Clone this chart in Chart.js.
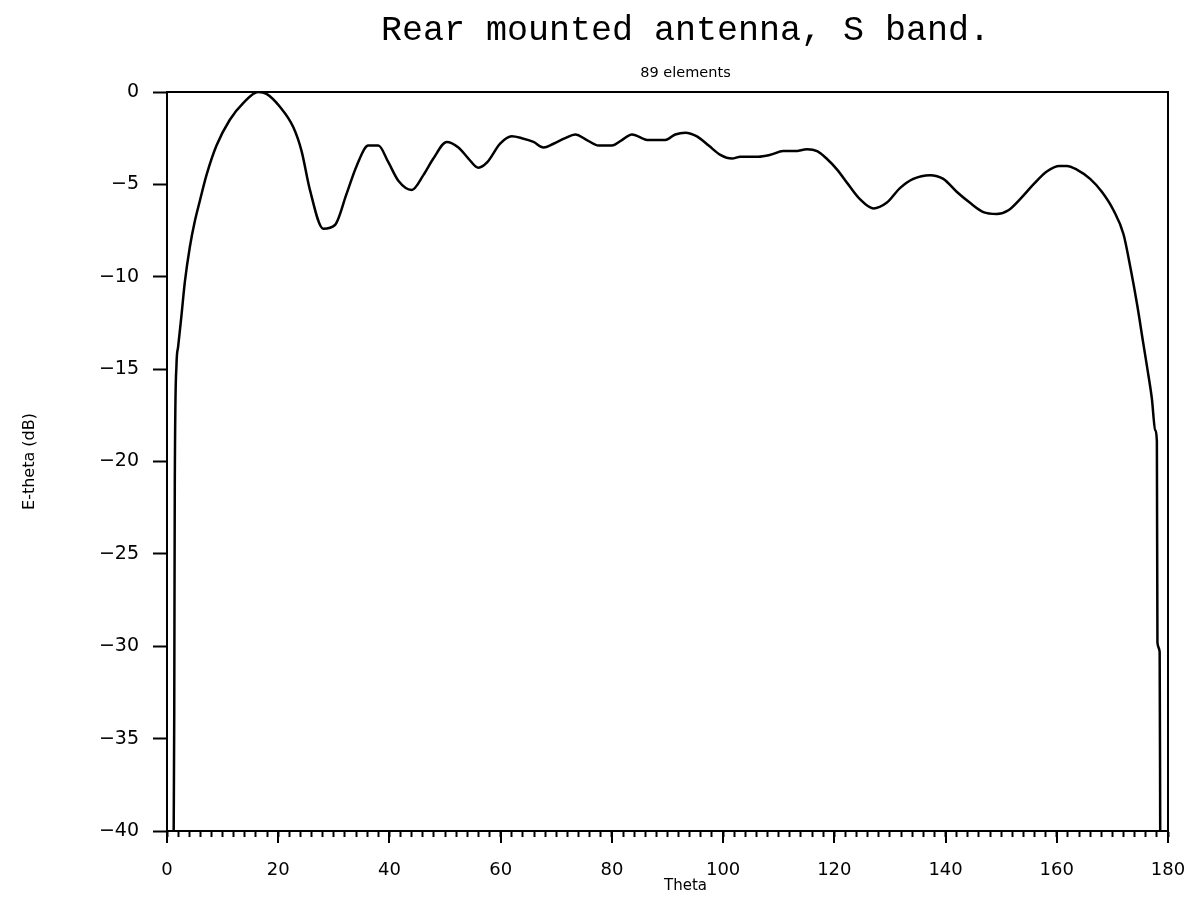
<!DOCTYPE html>
<html>
<head>
<meta charset="utf-8">
<title>Rear mounted antenna, S band.</title>
<script src="https://cdn.jsdelivr.net/npm/chart.js@4.4.1/dist/chart.umd.min.js"></script>
<style>
  body { margin: 0; background: #fff; }
  #wrap { width: 1196px; height: 901px; }
</style>
</head>
<body>
<div id="wrap"><canvas id="pattern" width="1196" height="901"></canvas></div>
<script>
// pattern, theta in degrees, E-theta in dB
const thetaDeg = [
  1.2, 1.3, 1.4, 1.7, 2.0, 2.6, 3.2, 4.1, 5.0, 5.9, 7.1, 8.9, 11.3, 13.7, 16.4, 17.9,
  20.3, 22.7, 24.2, 25.7, 28.1, 30.2, 32.3, 34.1, 36.2, 38.0, 39.8, 41.6, 44.0, 46.1,
  47.9, 50.3, 52.4, 54.2, 56.0, 57.6, 59.9, 62.0, 63.8, 65.9, 67.7, 69.5, 71.6, 73.4,
  75.5, 77.6, 80.0, 81.8, 83.6, 86.6, 89.6, 91.4, 93.2, 95.3, 97.4, 99.5, 101.6, 103.1,
  106.3, 108.5, 110.8, 112.9, 115.1, 116.9, 118.6, 120.5, 122.5, 124.6, 127.0, 129.4,
  131.8, 134.2, 137.2, 139.6, 142.0, 144.4, 146.8, 149.2, 151.3, 153.7, 155.8, 158.2,
  160.5, 161.8, 163.6, 166.0, 168.1, 170.2, 172.0, 173.3, 174.5, 175.5, 176.3, 177.1,
  177.7, 178.0, 178.1, 178.5, 178.6
];
const eThetaDb = [
  -40, -33.8, -21.3, -14.8, -13.8, -12.1, -10.3, -8.4, -7.0, -5.9, -4.5, -2.9, -1.5, -0.6, 0, -0.1,
  -0.8, -1.9, -3.2, -5.3, -7.4, -7.2, -5.5, -4.0, -2.9, -2.9, -3.8, -4.8, -5.3, -4.5,
  -3.6, -2.7, -3.0, -3.6, -4.1, -3.8, -2.8, -2.4, -2.5, -2.7, -3.0, -2.8, -2.5, -2.3,
  -2.6, -2.9, -2.9, -2.6, -2.3, -2.6, -2.6, -2.3, -2.2, -2.4, -2.9, -3.4, -3.6, -3.5,
  -3.5, -3.4, -3.2, -3.2, -3.1, -3.2, -3.6, -4.2, -5.0, -5.8, -6.3, -6.0,
  -5.2, -4.7, -4.5, -4.7, -5.4, -6.0, -6.5, -6.6, -6.4, -5.7, -5.0, -4.3,
  -4.0, -4.0, -4.2, -4.7, -5.4, -6.4, -7.7, -9.6, -11.6, -13.5, -15.0, -16.6,
  -18.3, -18.9, -29.8, -30.3, -40
];
const xTickStep = 2;     // minor ticks on theta axis
const xLabelStep = 20;   // labelled ticks
const yTickStep = 5;

const titleText = 'Rear mounted antenna, S band.';
const subtitleText = '89 elements';
const xTitleText = 'Theta';

const sans = 'DejaVu Sans';

// longer marks for the labelled theta ticks
const majorTicks = {
  id: 'majorTicks',
  afterDraw(chart) {
    const sc = chart.scales.x;
    const ctx = chart.ctx;
    ctx.save();
    ctx.strokeStyle = '#000';
    ctx.lineWidth = 2;
    for (let v = 0; v <= 180; v += xLabelStep) {
      const px = Math.round(sc.getPixelForValue(v));
      ctx.beginPath();
      ctx.moveTo(px, sc.top);
      ctx.lineTo(px, sc.top + 12);
      ctx.stroke();
    }
    ctx.restore();
  }
};

// the plotter centred its texts a bit right of the frame centre
const headings = {
  id: 'headings',
  afterDraw(chart) {
    const a = chart.chartArea;
    const cx = (a.left + a.right) / 2 + 18;
    const ctx = chart.ctx;
    ctx.save();
    ctx.fillStyle = '#000';
    ctx.textAlign = 'center';
    ctx.textBaseline = 'middle';
    ctx.font = '35px "Liberation Mono"';
    ctx.fillText(titleText, cx, 31);
    ctx.font = '14.5px "' + sans + '"';
    ctx.fillText(subtitleText, cx, 73);
    ctx.font = '15px "' + sans + '"';
    ctx.fillText(xTitleText, cx, 886);
    ctx.restore();
  }
};

const frameAxis = (pos, min, max) => ({
  type: 'linear', position: pos, min: min, max: max,
  afterFit(sc) { if (pos === 'top') sc.height = 0; else sc.width = 0; },
  ticks: { display: false },
  grid: { display: false, drawTicks: false },
  border: { display: true, color: '#000', width: 2 }
});

new Chart(document.getElementById('pattern'), {
  type: 'line',
  data: {
    datasets: [{
      data: thetaDeg.map((t, i) => ({ x: t, y: eThetaDb[i] })),
      borderColor: '#000',
      borderWidth: 2.5,
      pointRadius: 0,
      cubicInterpolationMode: 'monotone',
      fill: false
    }]
  },
  plugins: [majorTicks, headings],
  options: {
    responsive: false,
    animation: false,
    devicePixelRatio: 1,
    layout: { padding: { left: 0, right: 28, top: 92, bottom: 0 } },
    plugins: {
      legend: { display: false },
      tooltip: { enabled: false },
      title: { display: false }
    },
    scales: {
      x: {
        type: 'linear', position: 'bottom', min: 0, max: 180,
        afterFit(sc) { sc.height = 70; sc.paddingLeft = 0; sc.paddingRight = 0; },
        ticks: {
          stepSize: xTickStep, autoSkip: false, maxRotation: 0,
          padding: 23, color: '#000',
          font: { family: sans, size: 18 },
          callback: v => (v % xLabelStep === 0 ? String(v) : '')
        },
        grid: { display: true, drawOnChartArea: false, tickLength: 6, tickWidth: 2, tickColor: '#000' },
        border: { display: true, color: '#000', width: 2 }
      },
      y: {
        type: 'linear', position: 'left', min: -40, max: 0,
        afterFit(sc) { sc.width = 167; },
        ticks: {
          stepSize: yTickStep, padding: 14, color: '#000',
          font: { family: sans, size: 19 },
          callback: v => (v === 0 ? '0' : '\u2212' + Math.abs(v))
        },
        grid: { display: true, drawOnChartArea: false, tickLength: 14, tickWidth: 2, tickColor: '#000' },
        border: { display: true, color: '#000', width: 2 },
        title: {
          display: true, text: 'E-theta (dB)', color: '#000',
          font: { family: sans, size: 16 },
          padding: { top: 20, bottom: 0 }
        }
      },
      xTop: frameAxis('top', 0, 180),
      yRight: frameAxis('right', -40, 0)
    }
  }
});
</script>
</body>
</html>
